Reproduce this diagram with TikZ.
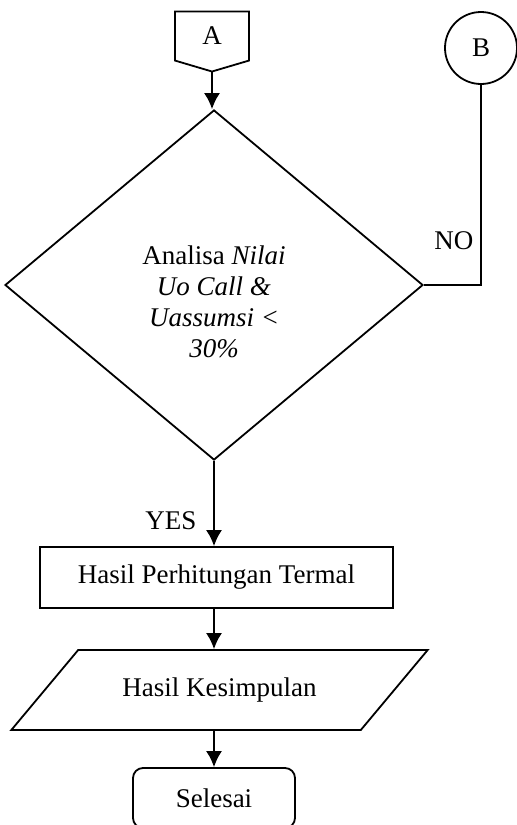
\documentclass[tikz,border=0pt]{standalone}
\usepackage{fontspec}
\setmainfont{Liberation Serif}
\usetikzlibrary{shapes.geometric,shapes.symbols,arrows.meta}
\begin{document}
\begin{tikzpicture}[x=0.5pt,y=-0.5pt,line width=0.9pt,
    every node/.style={font=\fontsize{13.5}{15.5}\selectfont},
    conn/.style={draw,signal,signal to=south,signal pointer angle=147,
      minimum width=37pt,minimum height=26pt,inner sep=0pt},
    pagecirc/.style={draw,circle,minimum size=36pt,inner sep=0pt},
    decision/.style={draw,diamond,minimum width=209pt,minimum height=175pt,
      inner sep=0pt,align=center},
    process/.style={draw,rectangle,minimum width=176.5pt,minimum height=30.5pt},
    iobox/.style={draw,trapezium,trapezium left angle=37.6,trapezium right angle=142.4,
      trapezium stretches=true,minimum width=208.5pt,minimum height=40pt},
    terminal/.style={draw,rectangle,rounded corners=5pt,minimum width=81pt,minimum height=30pt},
    flow/.style={-{Latex[length=8pt,width=8pt]}}]
  \useasboundingbox (0,0) rectangle (516,825);
  \draw (212,36) node[conn](A){A};
  \draw (481,48) node[pagecirc](B){B};
  \draw (214,285) node[decision](dec){\mbox{}\\[11pt] Analisa \textit{Nilai}\\ \textit{Uo Call \&}\\
    \textit{Uassumsi <}\\ \textit{30\%}};
  \draw (216.5,577.5) node[process](hasil){Hasil Perhitungan Termal};
  \draw (219.5,690) node[iobox](simpul){Hasil Kesimpulan\hspace{14pt}};
  \draw (214,798) node[terminal](end){Selesai};
  \draw[flow] (A.south) -- (A.south |- dec.north);
  \draw (B.south) -- (B.south |- dec.east) node[pos=0.78,left]{NO} -- (dec.east);
  \draw[flow] (dec.south) -- node[pos=0.7,left=5pt]{YES} (dec.south |- hasil.north);
  \draw[flow] (end.north |- hasil.south) -- (end.north |- simpul.north);
  \draw[flow] (end.north |- simpul.south) -- (end.north);
\end{tikzpicture}
\end{document}
